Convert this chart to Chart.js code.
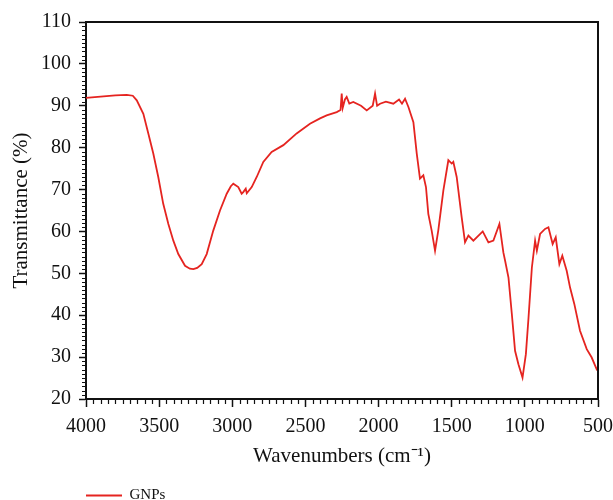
<!DOCTYPE html>
<html>
<head>
<meta charset="utf-8">
<script src="https://cdn.jsdelivr.net/npm/chart.js@4/dist/chart.umd.min.js"></script>
<style>
  html, body { margin: 0; padding: 0; background: #fff; }
  #wrap { width: 613px; height: 500px; }
</style>
</head>
<body>
<div id="wrap"><canvas id="ftir"></canvas></div>
<script>
// FTIR spectrum of GNPs
var wavenumbers = [4000, 3900, 3800, 3722, 3680, 3653, 3608, 3574, 3540, 3506, 3472, 3437, 3403, 3369, 3323, 3290, 3266, 3240, 3209, 3175, 3130, 3084, 3038, 3010, 2993, 2959, 2936, 2925, 2908, 2901, 2867, 2833, 2788, 2731, 2651, 2560, 2469, 2400, 2355, 2286, 2260, 2252, 2245, 2230, 2218, 2200, 2173, 2120, 2081, 2040, 2024, 2010, 1990, 1950, 1899, 1860, 1840, 1819, 1796, 1762, 1739, 1717, 1694, 1676, 1660, 1637, 1614, 1592, 1557, 1523, 1500, 1489, 1466, 1432, 1409, 1386, 1352, 1288, 1249, 1215, 1174, 1147, 1135, 1112, 1089, 1067, 1044, 1016, 993, 975, 952, 930, 918, 896, 862, 839, 810, 789, 764, 744, 714, 691, 662, 623, 577, 543, 509, 500];
var transmittance = [91.9, 92.2, 92.5, 92.6, 92.4, 91.3, 88.1, 83.4, 78.6, 73, 66.6, 61.8, 57.8, 54.6, 51.8, 51.1, 51.0, 51.3, 52.2, 54.6, 60.2, 65, 69, 70.8, 71.4, 70.6, 69, 69.4, 70.2, 69.1, 70.6, 73, 76.6, 79, 80.6, 83.4, 85.7, 87, 87.7, 88.5, 89, 92.9, 89.5, 91.5, 92.1, 90.5, 90.9, 90, 88.9, 90, 92.9, 90, 90.5, 91, 90.5, 91.5, 90.5, 91.7, 89.7, 86.1, 78.6, 72.6, 73.4, 70.6, 64.2, 60.2, 55.4, 60.2, 69.8, 77, 76.2, 76.6, 73, 63.4, 57.4, 59, 57.8, 60, 57.4, 57.8, 61.8, 55, 53, 49, 40.3, 31.5, 28.3, 25.1, 30.7, 39.4, 51.4, 57.8, 55.4, 59.4, 60.6, 61, 57, 58.6, 52.2, 54.2, 50.6, 46.6, 42.7, 36.3, 31.9, 29.9, 27.1, 27.5];
var xTicks = [4000, 3500, 3000, 2500, 2000, 1500, 1000, 500];
var yTicks = [20, 30, 40, 50, 60, 70, 80, 90, 100, 110];

var points = wavenumbers.map(function (w, i) { return { x: w, y: transmittance[i] }; });
var red = '#e52420';

// box on top/right plus minor ticks on the two axes
var frame = {
    id: 'frame',
    afterDraw: function (chart) {
        var c = chart.ctx, a = chart.chartArea;
        var xs = chart.scales.x, ys = chart.scales.y;
        c.save();
        c.strokeStyle = '#111';
        c.lineWidth = 2;
        c.beginPath();
        c.moveTo(a.left, a.top); c.lineTo(a.right, a.top); c.lineTo(a.right, a.bottom);
        c.stroke();
        c.lineWidth = 1.2;
        c.beginPath();
        for (var v = 500; v <= 4000; v += 50) {
            if (v % 500 === 0) continue;
            var px = Math.round(xs.getPixelForValue(v)) + 0.5;
            c.moveTo(px, a.bottom); c.lineTo(px, a.bottom + 5);
        }
        for (var t = 20; t <= 110; t += 1) {
            if (t % 10 === 0) continue;
            var py = Math.round(ys.getPixelForValue(t)) + 0.5;
            c.moveTo(a.left, py); c.lineTo(a.left - 4, py);
        }
        c.stroke();
        c.restore();
    }
};

var plain = function (v) { return String(v); };

var ctx = document.getElementById('ftir').getContext('2d');
var chart = new Chart(ctx, {
    type: 'line',
    data: {
        datasets: [{
            label: 'GNPs',
            data: points,
            borderColor: red,
            backgroundColor: red,
            borderWidth: 1.8,
            pointRadius: 0,
            pointStyle: 'line',
            tension: 0,
            fill: false
        }]
    },
    options: {
        responsive: true,
        maintainAspectRatio: false,
        animation: false,
        layout: { padding: { left: 0, right: 15, top: 22, bottom: -13 } },
        plugins: {
            legend: {
                position: 'bottom',
                align: 'start',
                fullSize: false,
                labels: {
                    usePointStyle: true,
                    pointStyle: 'line',
                    pointStyleWidth: 36,
                    boxHeight: 10,
                    padding: 0,
                    color: '#111',
                    font: { family: 'Liberation Serif', size: 15 }
                }
            },
            tooltip: { enabled: false }
        },
        scales: {
            x: {
                type: 'linear',
                reverse: true,
                min: 500,
                max: 4000,
                afterBuildTicks: function (s) { s.ticks = xTicks.map(function (v) { return { value: v }; }); },
                afterFit: function (s) { s.paddingRight = 0; s.paddingLeft = 0; s.height = 89; },
                grid: { drawOnChartArea: false, drawTicks: true, tickLength: 8, tickWidth: 1.5, tickColor: '#111' },
                border: { display: true, color: '#111', width: 2 },
                ticks: { color: '#111', padding: 8, maxRotation: 0, callback: plain, font: { family: 'Liberation Serif', size: 20 } },
                title: {
                    display: true,
                    text: 'Wavenumbers (cm\u207B\u00B9)',
                    color: '#111',
                    padding: { top: 4, bottom: 19 },
                    font: { family: 'Liberation Serif', size: 21 }
                }
            },
            y: {
                min: 20,
                max: 110,
                afterBuildTicks: function (s) { s.ticks = yTicks.map(function (v) { return { value: v }; }); },
                afterFit: function (s) { s.width = 86; },
                grid: { drawOnChartArea: false, drawTicks: true, tickLength: 7, tickWidth: 1.5, tickColor: '#111' },
                border: { display: true, color: '#111', width: 2 },
                ticks: { color: '#111', padding: 8, callback: plain, font: { family: 'Liberation Serif', size: 20 } },
                title: {
                    display: true,
                    text: 'Transmittance (%)',
                    color: '#111',
                    padding: { top: 9, bottom: 0 },
                    font: { family: 'Liberation Serif', size: 21 }
                }
            }
        }
    },
    plugins: [frame]
});
</script>
</body>
</html>
